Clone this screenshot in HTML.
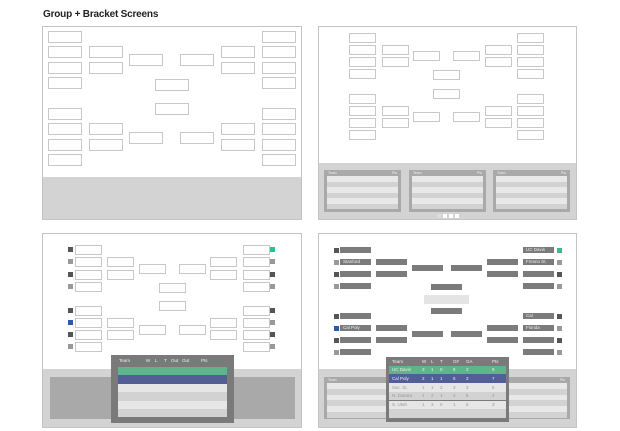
<!DOCTYPE html>
<html><head><meta charset="utf-8"><style>
body{margin:0;width:620px;height:431px;background:#fff;position:relative;overflow:hidden;font-family:"Liberation Sans",sans-serif}
div{position:absolute;box-sizing:border-box}
.t{font-size:10px;color:#222;left:43px;top:9px;white-space:nowrap;font-weight:bold;letter-spacing:-0.2px}
.f{border:1px solid #c4c4c4;background:#fff}
.g{background:#d3d3d4}
.b{border:1px solid #c8c8c8;background:#fff}
.d{background:#7b7b7b;color:#eee;font-size:4.5px;line-height:6px;padding-left:3px;white-space:nowrap}
.m{width:5px;height:5px}
.tx{font-size:4.5px;white-space:nowrap;color:#eee}
</style></head><body>
<div class="t">Group + Bracket Screens</div>
<div id="root"></div>
<script>
var R=document.body;
function el(c,x,y,w,h,st,txt){var e=document.createElement('div');e.className=c;e.style.left=x+'px';e.style.top=y+'px';e.style.width=w+'px';e.style.height=h+'px';if(st)e.style.cssText+=st;if(txt)e.textContent=txt;R.appendChild(e);return e;}
// panel frames
el('f',42,26,260,194);el('g',43,177,258,42);
el('f',318,26,259,194);el('g',319,163,257,56);
el('f',42,233,260,195);el('g',43,369,258,58);
el('f',318,233,259,195);el('g',319,369,257,58);
// panel1 boxes
function br(xs,w,h,ys,cls,o){
 // xs: [c1..c6], ys: {c1:[...],c2:[...],c3:[...],cen:[...]}, cen x
}
var P1={w:34,h:12,x:[48,89,129,180,221,262],c:155,
 y1:[31,46,62,77,108,123,139,154],y2:[46,62,123,139],y3:[54,132],yc:[79,103]};
var P2={w:27,h:10,x:[349,382,413,453,485,517],c:433,
 y1:[33,45,57,69,94,106,118,130],y2:[45,57,106,118],y3:[51,112],yc:[70,89]};
var P3={w:27,h:10,x:[75,107,139,179,210,243],c:159,
 y1:[245,257,270,282,306,318,330,342],y2:[257,270,318,330],y3:[264,325],yc:[283,301]};
var P4={w:31,h:6,x:[340,376,412,451,487,523],c:431,
 y1:[247,259,271,283,313,325,337,349],y2:[259,271,325,337],y3:[265,331],yc:[284,308]};
function draw(P,cls,labL,labR){
 P.y1.forEach(function(y,i){el(cls,P.x[0],y,P.w,P.h,'',labL&&labL[i]||'');el(cls,P.x[5],y,P.w,P.h,'',labR&&labR[i]||'');});
 P.y2.forEach(function(y){el(cls,P.x[1],y,P.w,P.h);el(cls,P.x[4],y,P.w,P.h);});
 P.y3.forEach(function(y){el(cls,P.x[2],y,P.w,P.h);el(cls,P.x[3],y,P.w,P.h);});
 P.yc.forEach(function(y){el(cls,P.c,y,P.w,P.h);});
}
draw(P1,'b');draw(P2,'b');draw(P3,'b');
el('',424,295,45,9,'background:#e4e4e4');
draw(P4,'d',['','Stanford','','','','Cal Poly','',''],['UC Davis','Fresno St.','','','Cal','Florida','','']);
// markers
var mc=['#555','#999','#555','#999','#555','#999','#555','#999'];
function marks(P,xl,xr,dy,cl,cr){P.y1.forEach(function(y,i){el('m',xl,y+dy,5,5,'background:'+(cl[i]||mc[i]));el('m',xr,y+dy,5,5,'background:'+(cr[i]||mc[i]));});}
marks(P3,68,270,2,{5:'#2d5aa8'},{0:'#2fbf8a'});
marks(P4,334,557,0.5,{5:'#2d5aa8'},{0:'#2fbf8a'});
// panel2 small tables
[324,409,493].forEach(function(x){
 el('',x,170,77,42,'background:#a9a9a9');
 el('tx',x+4,171,40,5,'font-size:3.5px','Team');el('tx',x+68,171,8,5,'font-size:3.5px','Pts');
 for(var i=0;i<6;i++)el('',x+3,176+i*5.5,71,5.5,'background:'+(i%2?'#d2d2d2':'#e8e8e8'));
});
[437,443,449,455].forEach(function(x,i){el('',x,214,4,4,'background:'+(i?'#fff':'#ddd'));});
// panel3 popup
el('',50,377,245,42,'background:#a9a9aa');
el('',111,355,123,68,'background:#7a7a7a');
el('tx',119,358,100,6,'','Team');
['W','L','T','Out','Out','Pts'].forEach(function(t,i){el('tx',[146,155,164,171,182,201][i],358,15,6,'',t);});
el('',118,367,109,8,'background:#5fb48e');el('',118,375,109,9,'background:#535d96');
for(var i=0;i<4;i++)el('',118,384+i*8.3,109,8.3,'background:'+(i%2?'#d2d2d2':'#e6e6e6'));
// panel4 bottom table
el('',324,377,246,42,'background:#a9a9a9');
el('tx',328,378,30,5,'font-size:3.5px','Team');el('tx',560,378,10,5,'font-size:3.5px','Pts');
for(var i=0;i<6;i++)el('',327,383+i*5.8,240,5.8,'background:'+(i%2?'#d2d2d2':'#e8e8e8'));
el('',386,357,123,65,'background:#7a7a7a');
var cols=[392,422,431,440,453,466,492];
var rows=[['Team','W','L','T','GF','GA','Pts'],['UC Davis','3','1','0','8','2','9'],['Cal Poly','2','1','1','5','3','7'],['Sac. St.','1','1','2','3','3','5'],['N. Dakota','1','2','1','2','6','4'],['S. Utah','1','3','0','1','5','3']];
var bg=['',"#5fb48e","#535d96","#e6e6e6","#d2d2d2","#e6e6e6"];
rows.forEach(function(r,j){var y=357+j*8.7;
 if(j)el('',389,y,117,8.7,'background:'+bg[j]);
 r.forEach(function(t,i){el('tx',cols[i],y+1.5,30,6,'color:'+(j>2?'#999':'#eee'),t);});});
el('',389,409,117,9,'background:#d2d2d2');
</script>
</body></html>
